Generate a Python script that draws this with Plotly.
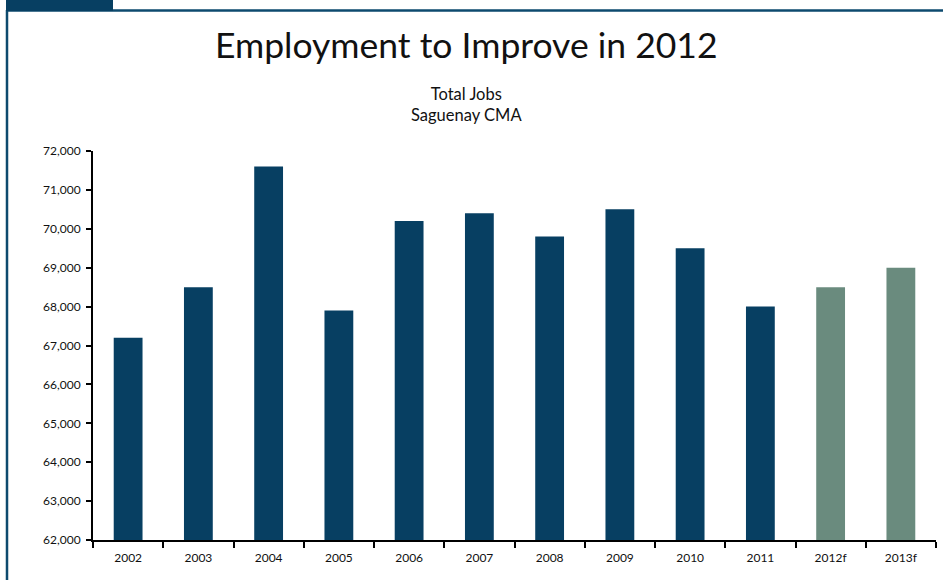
import plotly.graph_objects as go

categories = ["2002", "2003", "2004", "2005", "2006", "2007", "2008", "2009", "2010", "2011", "2012f", "2013f"]
jobs = [67200, 68500, 71600, 67900, 70200, 70400, 69800, 70500, 69500, 68000, 68500, 69000]
colors = ["#073F62"] * 10 + ["#6A8B7E"] * 2
y_ticks = list(range(62000, 72001, 1000))
y_tick_labels = [f"{v:,}" for v in y_ticks]

W, H = 943, 580
L, R, T, B = 93, 7, 151, 40
pw = W - L - R
ph = H - T - B

def px(x):
    return (x - L) / pw

def py(y):
    return (H - B - y) / ph

fig = go.Figure(go.Bar(x=categories, y=jobs, marker=dict(color=colors, line=dict(width=0)), width=0.41))

fig.update_layout(
    width=W, height=H,
    margin=dict(l=L, r=R, t=T, b=B),
    paper_bgcolor="white", plot_bgcolor="white",
    showlegend=False,
    font=dict(family="Lato, sans-serif", color="#111111"),
    xaxis=dict(
        type="category", showline=True, linecolor="black", linewidth=2,
        ticks="outside", tickson="boundaries", ticklen=6, tickwidth=2, tickcolor="black",
        tickfont=dict(size=12), showgrid=False, ticklabelstandoff=6,
    ),
    yaxis=dict(
        range=[62000, 72000], tickvals=y_ticks, ticktext=y_tick_labels,
        showline=True, linecolor="black", linewidth=2,
        ticks="outside", ticklen=5, tickwidth=2, tickcolor="black",
        tickfont=dict(size=12), showgrid=False, zeroline=False, ticklabelstandoff=3,
    ),
    shapes=[
        dict(type="line", xref="paper", yref="paper", x0=px(7), x1=px(7), y0=py(10), y1=py(585),
             line=dict(color="#0D4A6E", width=2.5)),
        dict(type="line", xref="paper", yref="paper", x0=px(7), x1=px(950), y0=py(10.5), y1=py(10.5),
             line=dict(color="#0D4A6E", width=2.5)),
        dict(type="rect", xref="paper", yref="paper", x0=px(6), x1=px(113), y0=py(-5), y1=py(11),
             fillcolor="#073F62", line=dict(width=0)),
    ],
    annotations=[
        dict(text="Employment to Improve in 2012", xref="paper", yref="paper", x=px(466), y=py(45),
             showarrow=False, font=dict(size=35.5, color="#111111"), xanchor="center", yanchor="middle"),
        dict(text="Total Jobs<br>Saguenay CMA", xref="paper", yref="paper", x=px(466), y=py(104),
             showarrow=False, font=dict(size=16.5, color="#111111"), xanchor="center", yanchor="middle"),
    ],
)

fig.write_html("out.html")
